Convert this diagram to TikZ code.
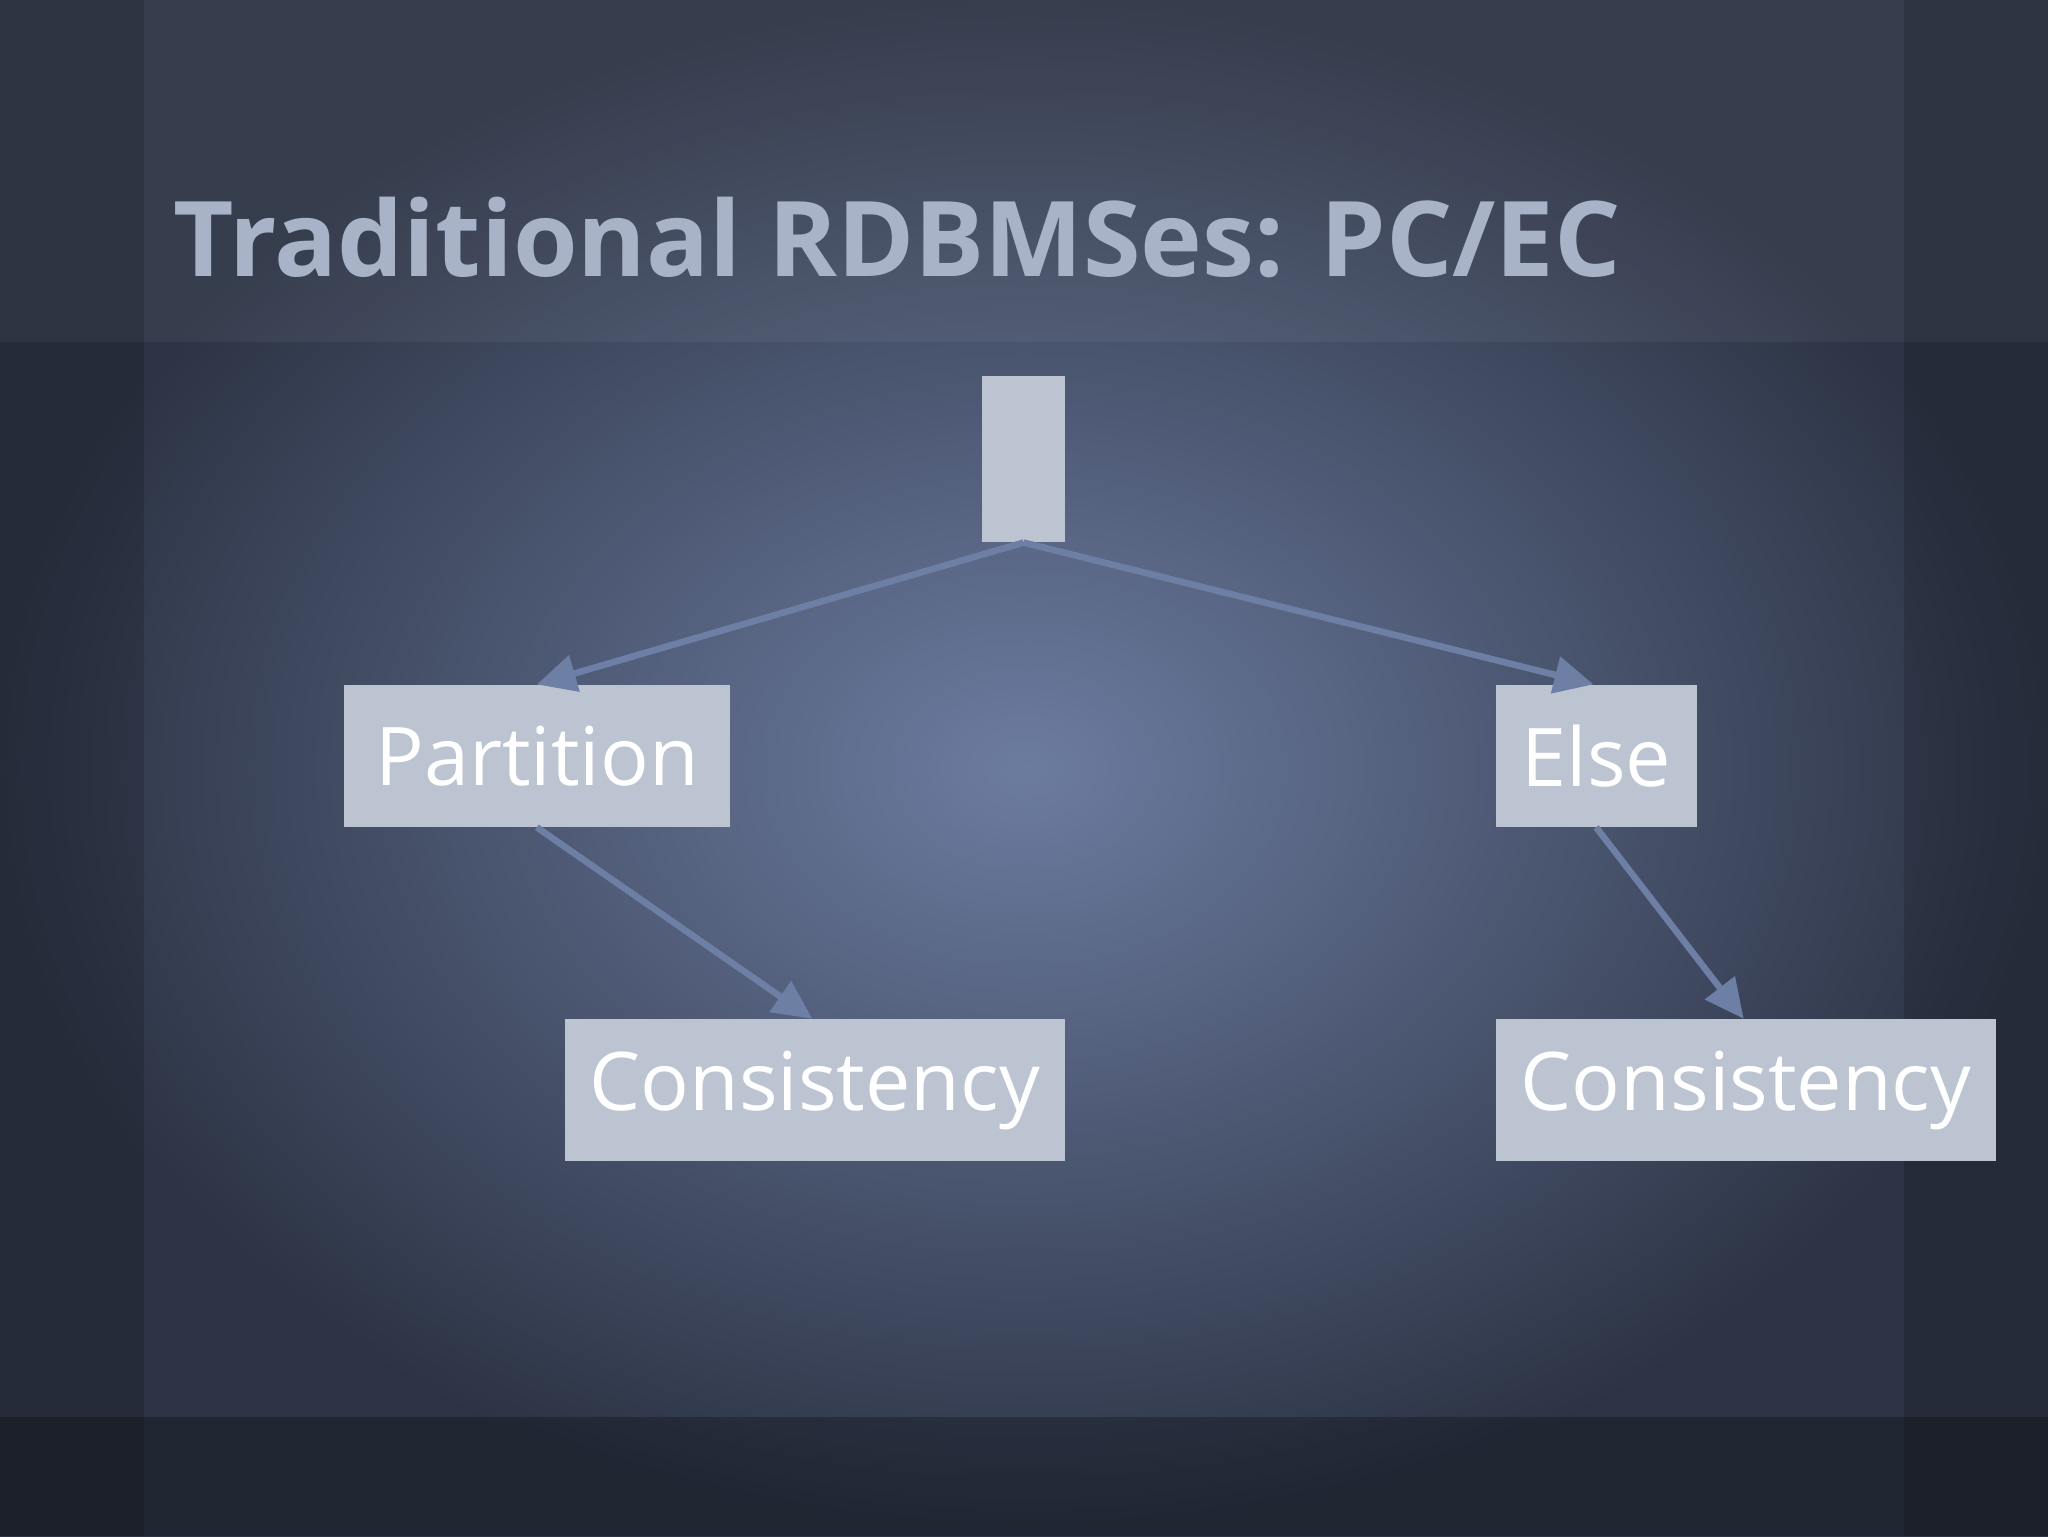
\documentclass[tikz,border=0pt]{standalone}
\usepackage{fontspec}
\setmainfont{Open Sans}
\usetikzlibrary{arrows.meta}
\definecolor{boxc}{HTML}{BCC3D1}
\definecolor{arr}{HTML}{6E7FA6}
\definecolor{titc}{HTML}{A9B3C7}
\definecolor{bgin}{HTML}{6C7CA0}
\definecolor{bgout}{HTML}{2C3344}
\tikzset{box/.style={fill=boxc,text=white,inner sep=0pt,anchor=north west,font=\fontsize{62}{70}\selectfont},
 conn/.style={draw=arr,line width=5pt,-{Triangle[length=30pt,width=28pt]}}}
\begin{document}
\begin{tikzpicture}[x=1pt,y=-1pt]
\useasboundingbox (0,0) rectangle (1568,1176);
\shade[inner color=bgin, outer color=bgout] (0,0) rectangle (1568,1176);
\fill[white,opacity=0.05] (0,0) rectangle (1568,262);
\fill[black,opacity=0.25] (0,1085) rectangle (1568,1176);
\fill[black,opacity=0.15] (0,0) rectangle (110,1176);
\fill[black,opacity=0.15] (1458,0) rectangle (1568,1176);
\node[anchor=base west,text=titc,font=\fontsize{80}{90}\selectfont\bfseries,inner sep=0pt] (title) at (133,212) {Traditional RDBMSes: PC/EC};
\node[box,minimum width=63pt,minimum height=127pt] (top) at (752,288) {};
\node[box,minimum width=296pt,minimum height=109pt] (part) at (263,524) {};
\node[font=\fontsize{62}{70}\selectfont,text=white] at (part.center) {Partition};
\node[box,minimum width=154pt,minimum height=109pt] (else) at (1145,524) {};
\node[font=\fontsize{62}{70}\selectfont,text=white] at (else.center) {Else};
\node[box,minimum width=383pt,minimum height=109pt] (c1) at (432,780) {};
\node[font=\fontsize{62}{70}\selectfont,text=white] at (c1.center) {Consistency};
\node[box,minimum width=383pt,minimum height=109pt] (c2) at (1145,780) {};
\node[font=\fontsize{62}{70}\selectfont,text=white] at (c2.center) {Consistency};
\draw[conn] (top.south) -- ([xshift=148pt]part.north west);
\draw[conn] (top.south) -- ([xshift=75pt]else.north west);
\draw[conn] ([xshift=148pt]part.south west) -- ([xshift=190pt]c1.north west);
\draw[conn] ([xshift=77pt]else.south west) -- ([xshift=190pt]c2.north west);
\end{tikzpicture}
\end{document}
